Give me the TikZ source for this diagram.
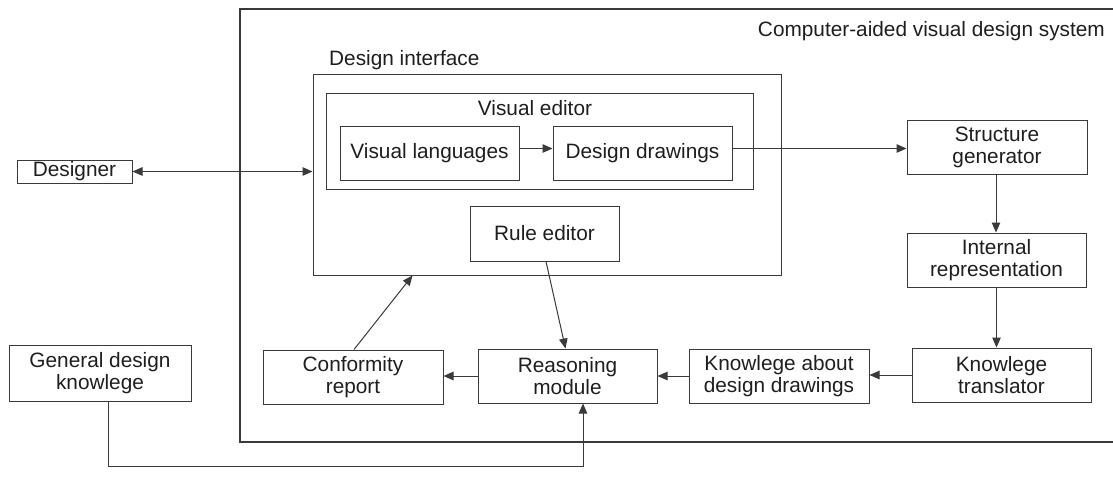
\documentclass[tikz,border=0pt]{standalone}
\usepackage{fontspec}
\setmainfont{Liberation Sans}
\usetikzlibrary{arrows.meta}
\definecolor{linec}{HTML}{3A3A3A}
\definecolor{textc}{HTML}{1E1E1E}
\begin{document}
\begin{tikzpicture}[x=1pt,y=-1pt,
  lbl/.style={text=textc, font=\fontsize{20.8}{21.5}\selectfont, inner sep=0pt},
  box/.style={draw=linec, line width=1pt, lbl, align=center},
  conn/.style={draw=linec, line width=1pt, -{Triangle[length=10pt,width=8.5pt]}},
  biconn/.style={draw=linec, line width=1pt, {Triangle[length=10pt,width=8.5pt]}-{Triangle[length=10pt,width=8.5pt]}}]
\useasboundingbox (0,0) rectangle (1113,483);

% system boundary, open on the right
\draw[linec, line width=1.3pt] (1113,9) -- (240,9) -- (240,442) -- (1113,442);
\node[lbl, anchor=east] (systitle) at (1105,31) {Computer-aided visual design system};

% design interface and its parts
\node[box, minimum width=468pt, minimum height=201pt] (di) at (547,174.5) {};
\node[lbl, anchor=west] (dititle) at (329,60) {Design interface};
\node[box, minimum width=427pt, minimum height=96pt] (ve) at (539.5,141) {};
\node[lbl] (vetitle) at (535,108) {Visual editor};
\node[box, minimum width=179pt, minimum height=54pt] (vl) at (429.5,153) {Visual languages};
\node[box, minimum width=179pt, minimum height=54pt] (dd) at (642.5,153) {Design drawings};
\node[box, minimum width=149pt, minimum height=55pt] (re) at (544.5,233.5) {Rule editor};

% outside actors
\node[box, minimum width=115pt, minimum height=23pt] (des) at (74.5,171.5) {Designer};
\node[box, minimum width=182pt, minimum height=56pt] (gdk) at (100,373) {General design\\knowlege};

% processing chain
\node[box, minimum width=180pt, minimum height=54pt] (sg) at (997,147.5) {Structure\\generator};
\node[box, minimum width=179pt, minimum height=54pt] (ir) at (996.5,260) {Internal\\representation};
\node[box, minimum width=179pt, minimum height=54pt] (kt) at (1001.5,375) {Knowlege\\translator};
\node[box, minimum width=180pt, minimum height=54pt] (kadd) at (779,376) {Knowlege about\\design drawings};
\node[box, minimum width=179pt, minimum height=54pt] (rm) at (567.5,376) {Reasoning\\module};
\node[box, minimum width=180pt, minimum height=54pt] (cr) at (353,377) {Conformity\\report};

% connectors
\draw[biconn] (des.east) -- (des.east -| di.west);
\draw[conn] ([yshift=4.5pt]vl.east) -- ([yshift=4.5pt]dd.west);
\draw[conn] ([yshift=4.5pt]dd.east) -- ([yshift=4.5pt]dd.east -| sg.west);
\draw[conn] ([xshift=-1pt]sg.south) -- ([xshift=-1pt]sg.south |- ir.north);
\draw[conn] (ir.south) -- (ir.south |- kt.north);
\draw[conn] (kt.west) -- (kt.west -| kadd.east);
\draw[conn] (kadd.west) -- (kadd.west -| rm.east);
\draw[conn] (rm.west) -- (rm.west -| cr.east);
\draw[conn] ([xshift=1pt]cr.north) -- ([xshift=100pt]di.south west);
\draw[conn] ([xshift=1.5pt]re.south) -- ([xshift=-2pt]rm.north);
\coordinate (gdkturn) at (108,466);
\draw[conn] ([xshift=8pt]gdk.south) -- (gdkturn) -- (gdkturn -| 583,0) -- ([xshift=15.5pt]rm.south);
\end{tikzpicture}
\end{document}
